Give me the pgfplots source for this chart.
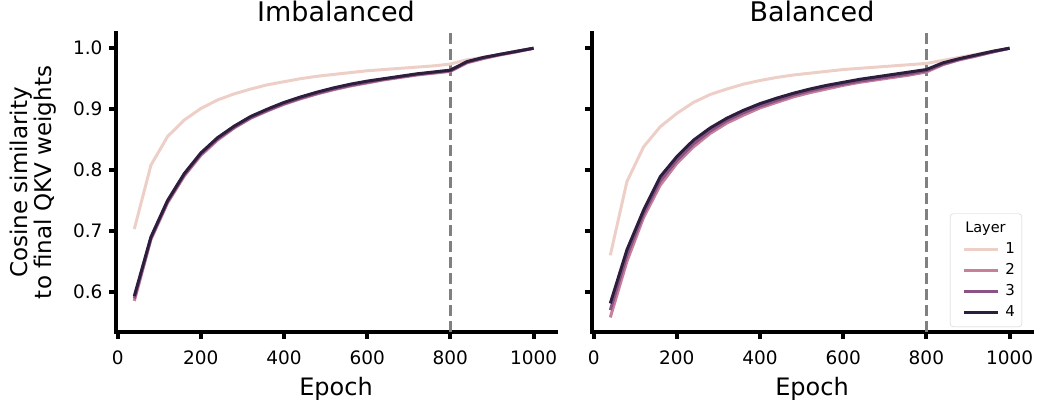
\documentclass[border=0pt]{standalone}
\usepackage{fontspec}
\setmainfont{DejaVu Sans}
\usepackage{pgfplots}
\usepackage{pgfplotstable}
\pgfplotsset{compat=1.18}

\definecolor{lay1}{HTML}{EDCFC8}
\definecolor{lay2}{HTML}{C8809A}
\definecolor{lay3}{HTML}{8A5285}
\definecolor{lay4}{HTML}{2D1E3E}

% cosine similarity to the final weights, per layer
\pgfplotstableread{
epoch l1    l2    l3    l4
40    0.703 0.585 0.589 0.593
80    0.808 0.686 0.688 0.690
120   0.855 0.746 0.748 0.750
160   0.882 0.790 0.792 0.794
200   0.901 0.824 0.826 0.828
240   0.915 0.849 0.851 0.853
280   0.925 0.869 0.870 0.872
320   0.933 0.885 0.886 0.888
360   0.940 0.897 0.898 0.900
400   0.945 0.908 0.909 0.911
440   0.950 0.917 0.918 0.920
480   0.954 0.925 0.926 0.928
520   0.957 0.932 0.933 0.935
560   0.960 0.938 0.939 0.941
600   0.963 0.943 0.944 0.946
640   0.965 0.948 0.949 0.950
680   0.967 0.952 0.953 0.954
720   0.969 0.956 0.957 0.958
760   0.971 0.959 0.960 0.961
800   0.974 0.962 0.963 0.964
840   0.981 0.976 0.977 0.978
880   0.985 0.983 0.984 0.985
920   0.990 0.989 0.990 0.990
960   0.995 0.994 0.995 0.995
1000  1.000 1.000 1.000 1.000
}\imbalanced

\pgfplotstableread{
epoch l1    l2    l3    l4
40    0.660 0.558 0.570 0.581
80    0.781 0.650 0.660 0.669
120   0.838 0.722 0.728 0.734
160   0.871 0.775 0.782 0.789
200   0.893 0.811 0.816 0.822
240   0.911 0.838 0.843 0.849
280   0.924 0.860 0.864 0.869
320   0.933 0.877 0.881 0.885
360   0.941 0.890 0.894 0.898
400   0.947 0.902 0.905 0.909
440   0.952 0.911 0.914 0.918
480   0.956 0.920 0.923 0.926
520   0.959 0.927 0.930 0.933
560   0.962 0.933 0.936 0.939
600   0.965 0.939 0.941 0.944
640   0.967 0.944 0.946 0.949
680   0.969 0.948 0.950 0.953
720   0.971 0.952 0.954 0.957
760   0.973 0.956 0.958 0.961
800   0.975 0.961 0.963 0.965
840   0.980 0.973 0.974 0.976
880   0.985 0.981 0.982 0.983
920   0.990 0.987 0.988 0.989
960   0.995 0.994 0.994 0.995
1000  1.000 1.000 1.000 1.000
}\balanced

\pgfplotsset{
  panel/.style={
    width=440pt, height=299pt, scale only axis,
    xmin=-4, xmax=1054, ymin=0.534, ymax=1.025,
    axis x line*=bottom, axis y line*=left,
    axis line style={line width=4pt, line cap=rect, -},
    tick align=outside, major tick length=7pt,
    tick style={line width=4pt, black},
    xtick={0,200,...,1000}, ytick={0.6,0.7,0.8,0.9,1.0},
    tick label style={font=\fontsize{18.5}{22}\selectfont},
    /pgf/number format/assume math mode=true,
    yticklabel style={xshift=-3pt, /pgf/number format/.cd, fixed, fixed zerofill, precision=1},
    xticklabel style={yshift=-8pt, /pgf/number format/.cd, fixed, 1000 sep={}},
    xlabel=Epoch,
    xlabel style={font=\fontsize{24}{28}\selectfont, at={(rel axis cs:0.5,0)},
      anchor=base, inner sep=0pt, yshift=-63pt},
    title style={font=\fontsize{27}{32}\selectfont, at={(rel axis cs:0.5,1)},
      anchor=base, inner sep=0pt, yshift=5pt},
    every axis plot/.append style={line width=3pt, no markers, line join=round},
  },
}

\begin{document}
\begin{tikzpicture}
\useasboundingbox (0,0) rectangle (1037pt,402pt);

\begin{axis}[panel, at={(116pt,70pt)}, anchor=south west,
  title={Imbalanced},
  ylabel={Cosine similarity\\to final QKV weights},
  ylabel style={align=center, font=\fontsize{23}{21}\selectfont,
    at={(rel axis cs:0,0.5)}, anchor=south, inner sep=0pt, yshift=60pt},
]
\addplot[forget plot, color=gray, line width=3pt, dash pattern=on 11pt off 5pt]
  coordinates {(800,0.534) (800,1.025)};
\addplot[lay1] table[x=epoch, y=l1] {\imbalanced};
\addplot[lay2] table[x=epoch, y=l2] {\imbalanced};
\addplot[lay3] table[x=epoch, y=l3] {\imbalanced};
\addplot[lay4] table[x=epoch, y=l4] {\imbalanced};
\end{axis}

\begin{axis}[panel, at={(592pt,70pt)}, anchor=south west,
  title={Balanced},
  yticklabels={},
  legend style={at={(rel axis cs:1,0)}, anchor=south east,
    xshift=-10pt, yshift=5pt, draw=black!20, rounded corners=3pt,
    fill=white, fill opacity=0.8, text opacity=1,
    font=\fontsize{15}{18}\selectfont, row sep=1pt,
    inner xsep=4pt, inner ysep=4.5pt,
    nodes={inner sep=3pt, text height=11pt, text depth=3pt}},
  legend cell align=left,
  legend image code/.code={%
    \draw[opacity=0, line width=0.1pt] (0pt,0pt) -- (48pt,0pt);
    \draw[#1, line width=3pt] (10pt,0pt) -- (44pt,0pt);},
]
\addlegendimage{empty legend}
\addlegendentry{\makebox[0pt][l]{\hspace{-40pt}\fontsize{14.5}{17}\selectfont Layer}}
\addplot[forget plot, color=gray, line width=3pt, dash pattern=on 11pt off 5pt]
  coordinates {(800,0.534) (800,1.025)};
\addplot[lay1] table[x=epoch, y=l1] {\balanced};
\addlegendentry{1}
\addplot[lay2] table[x=epoch, y=l2] {\balanced};
\addlegendentry{2}
\addplot[lay3] table[x=epoch, y=l3] {\balanced};
\addlegendentry{3}
\addplot[lay4] table[x=epoch, y=l4] {\balanced};
\addlegendentry{4}
\end{axis}
\end{tikzpicture}
\end{document}
